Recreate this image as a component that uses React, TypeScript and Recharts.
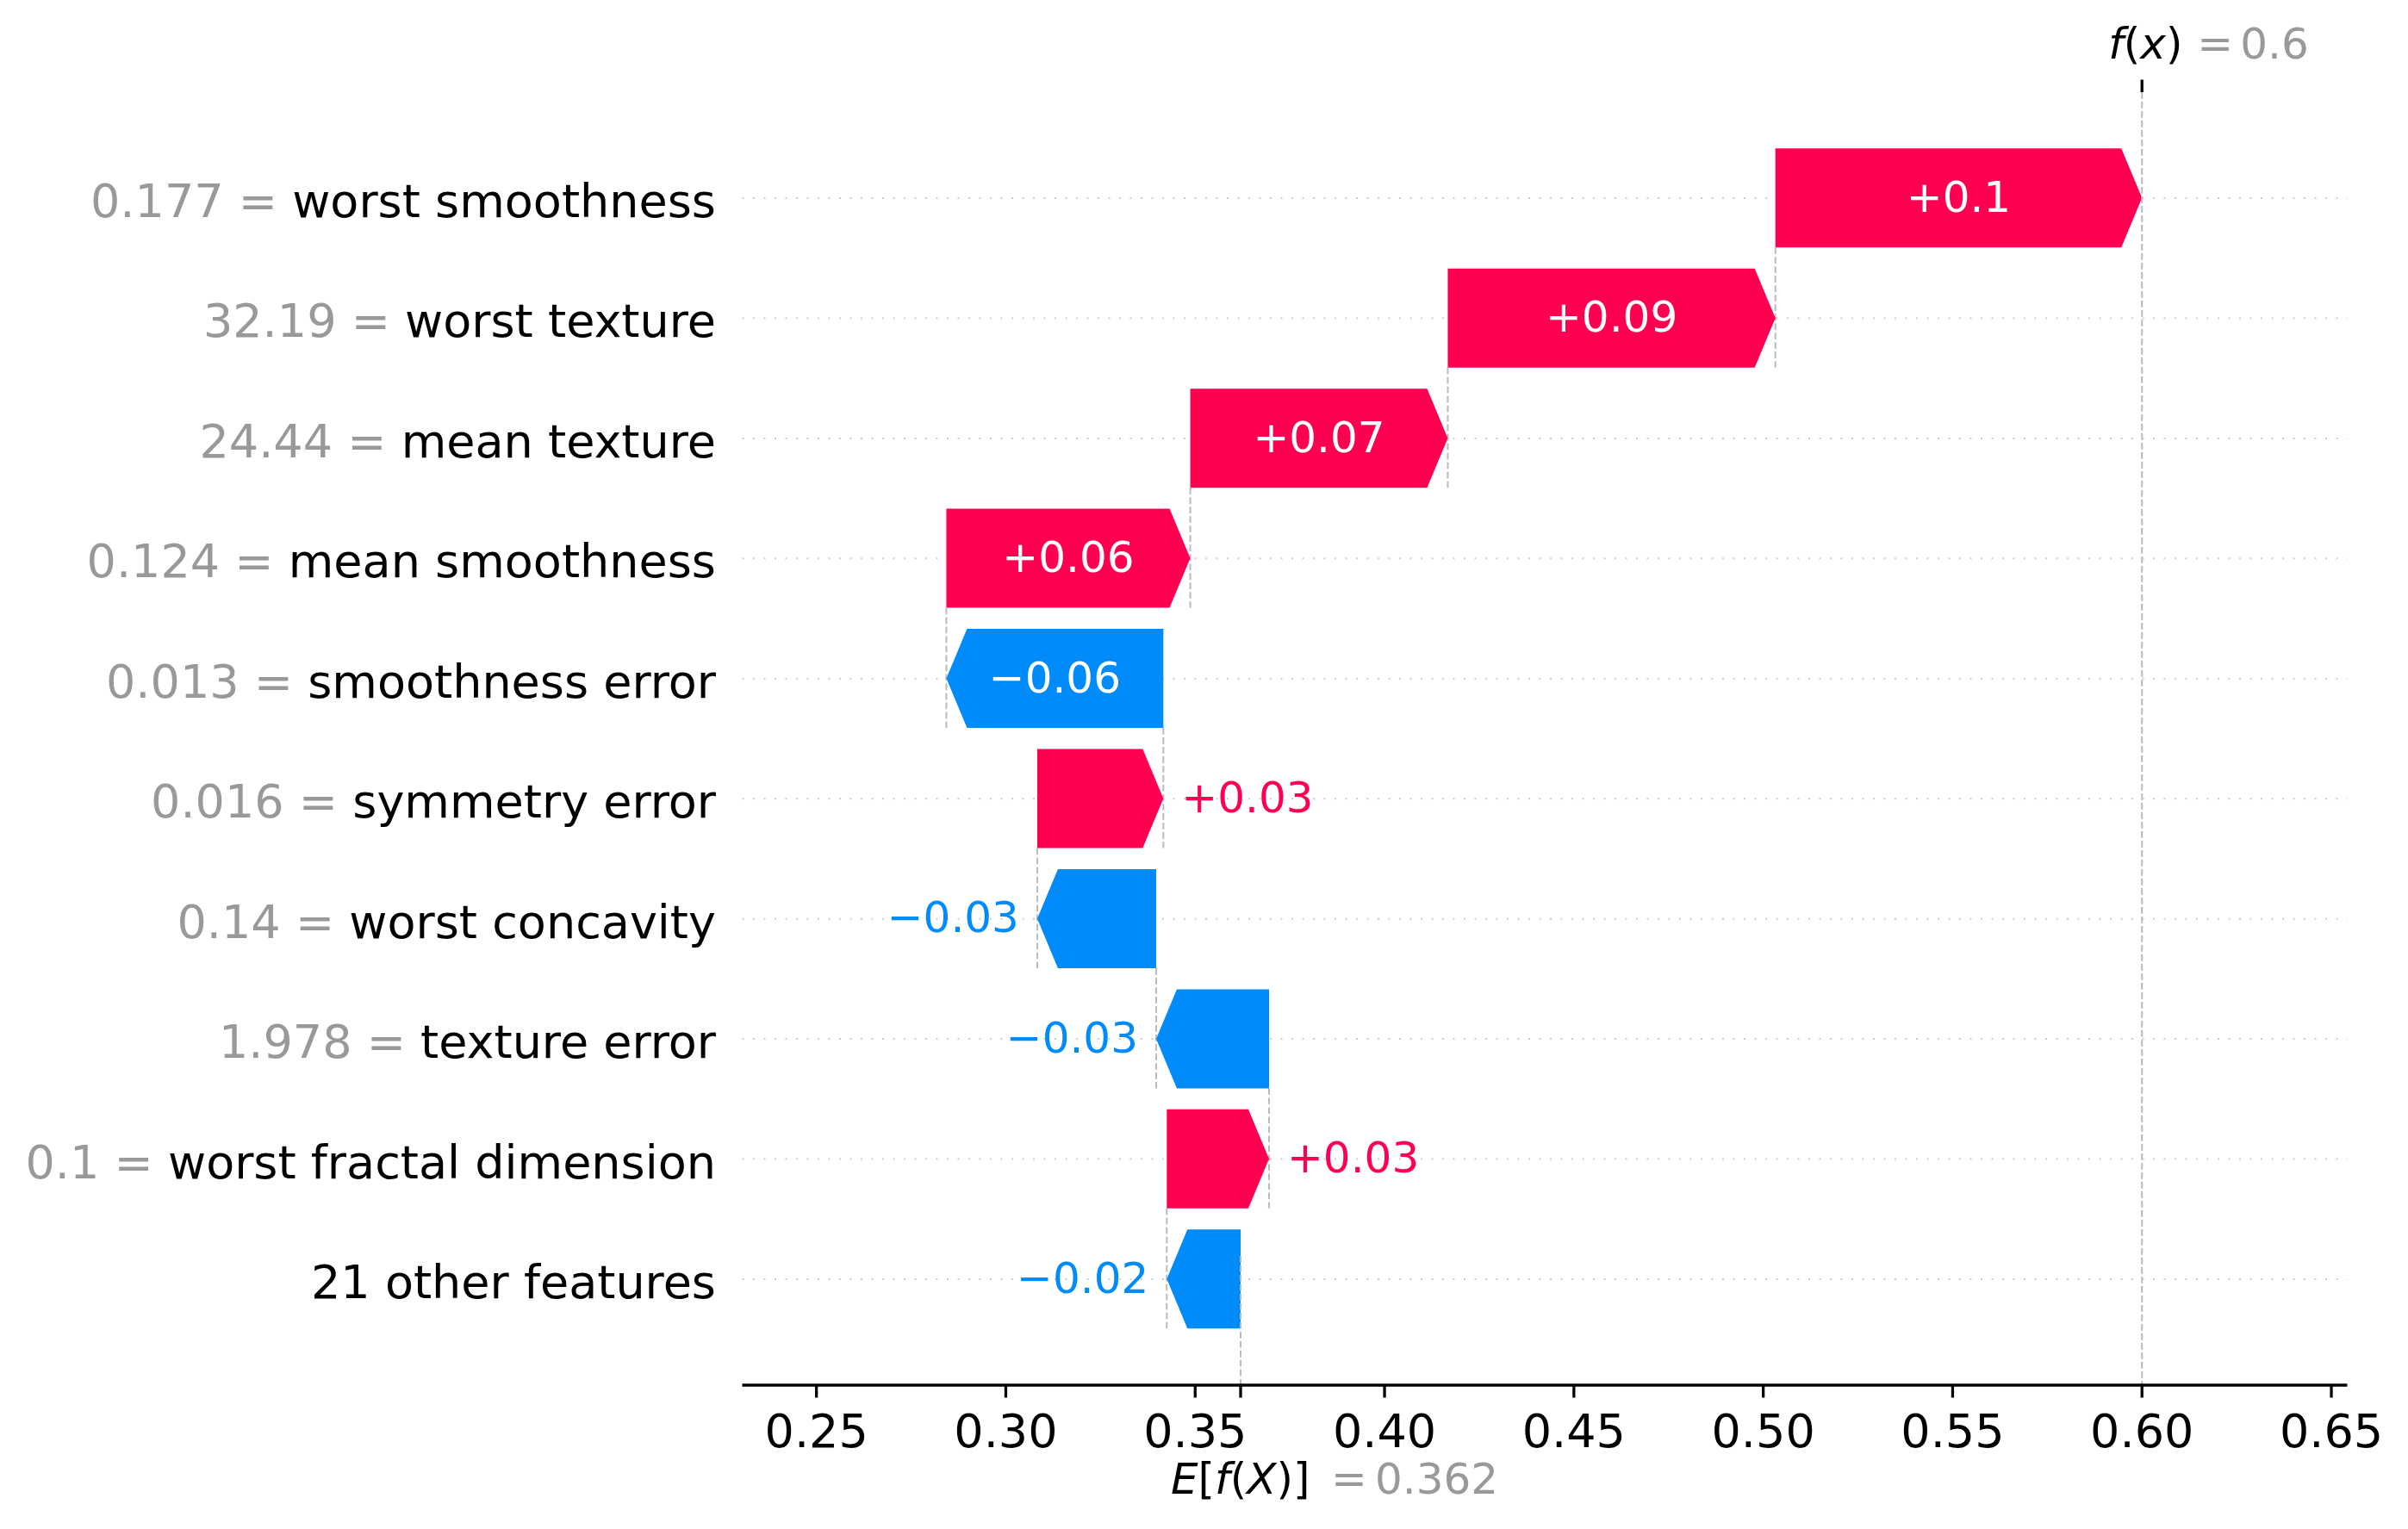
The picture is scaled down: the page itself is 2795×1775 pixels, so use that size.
import React from 'react'
import { ComposedChart, Bar, XAxis, YAxis, CartesianGrid, ReferenceLine } from 'recharts'

// rows top to bottom
const featureNames = [
  'worst smoothness',
  'worst texture',
  'mean texture',
  'mean smoothness',
  'smoothness error',
  'symmetry error',
  'worst concavity',
  'texture error',
  'worst fractal dimension',
  '21 other features',
]
const featureValues = ['0.177', '32.19', '24.44', '0.124', '0.013', '0.016', '0.14', '1.978', '0.1', '']
const shapValues = [0.0968, 0.0865, 0.068, 0.0644, -0.0573, 0.0333, -0.0314, -0.0298, 0.027, -0.0195]
const baseValue = 0.362
const xTicks = [0.25, 0.3, 0.35, 0.4, 0.45, 0.5, 0.55, 0.6, 0.65]

const RED = '#ff0051'
const BLUE = '#008bfb'
const GRAY = '#999999'
const LINE_GRAY = '#bbbbbb'
const FONT = '"DejaVu Sans", sans-serif'

const W = 2795
const H = 1775
const PLOT_L = 861.5
const PLOT_T = 107
const PLOT_B = 1608
const Y_AXIS_W = 840
const Y_PAD = 53.3
const BAND = (PLOT_B - PLOT_T - 2 * Y_PAD) / featureNames.length
const BAR_H = 115
const HEAD = 24
const LABEL_FS = 50
const TICK_FS = 54

// waterfall: start at the base value from the bottom row and walk up
const rows: { name: string; value: number; start: number; end: number; range: [number, number] }[] = []
let acc = baseValue
for (let i = shapValues.length - 1; i >= 0; i--) {
  const start = acc
  acc += shapValues[i]
  rows[i] = {
    name: featureNames[i],
    value: shapValues[i],
    start,
    end: acc,
    range: [Math.min(start, acc), Math.max(start, acc)],
  }
}
const fx = acc

const strip = (s: string) => s.replace(/\.?0+$/, '')
const fmtShap = (v: number) => (v >= 0 ? '+' : '\u2212') + strip(Math.abs(v).toFixed(2))

function ArrowShape(props: any) {
  const { x, y, width, height, index } = props
  const row = rows[index]
  const pos = row.value >= 0
  const x0 = width >= 0 ? x : x + width
  const w = Math.abs(width)
  const x1 = x0 + w
  const hl = Math.min(HEAD, w)
  const cy = y + height / 2
  const pts = pos
    ? [[x0, y], [x1 - hl, y], [x1, cy], [x1 - hl, y + height], [x0, y + height]]
    : [[x1, y], [x0 + hl, y], [x0, cy], [x0 + hl, y + height], [x1, y + height]]
  const color = pos ? RED : BLUE
  const label = fmtShap(row.value)
  const textW = label.length * 0.62 * LABEL_FS
  const inside = w - hl > textW
  const startX = pos ? x0 : x1
  const isLast = index === rows.length - 1
  return (
    <g>
      {!isLast && (
        <line
          x1={startX}
          x2={startX}
          y1={y + height}
          y2={y + height + BAND}
          stroke={LINE_GRAY}
          strokeWidth={2}
          strokeDasharray="7.7 3.3"
        />
      )}
      <polygon points={pts.map((p) => p.join(',')).join(' ')} fill={color} />
      {inside ? (
        <text x={(x0 + x1) / 2} y={cy + 16} textAnchor="middle" fill="#ffffff" fontSize={LABEL_FS} fontFamily={FONT}>
          {label}
        </text>
      ) : (
        <text
          x={pos ? x1 + 21 : x0 - 21}
          y={cy + 16}
          textAnchor={pos ? 'start' : 'end'}
          fill={color}
          fontSize={LABEL_FS}
          fontFamily={FONT}
        >
          {label}
        </text>
      )}
    </g>
  )
}

function YTick(props: any) {
  const { x, y, payload } = props
  const i = featureNames.indexOf(payload.value)
  const val = featureValues[i]
  return (
    <text x={x} y={y + 22} textAnchor="end" fontSize={TICK_FS} fontFamily={FONT}>
      {val !== '' && <tspan fill={GRAY}>{val} = </tspan>}
      <tspan fill="#000000">{featureNames[i]}</tspan>
    </text>
  )
}

function XTick(props: any) {
  const { x, y, payload } = props
  if (payload.value === baseValue) {
    return (
      <g fontSize={LABEL_FS} fontFamily={FONT}>
        <text x={x - 81} y={y + 97} fill="#000000">
          <tspan fontStyle="italic">E</tspan>[<tspan fontStyle="italic">f</tspan>(<tspan fontStyle="italic">X</tspan>)]
        </text>
        <text x={x + 105} y={y + 97} fill={GRAY}>=</text>
        <text x={x + 156} y={y + 97} fill={GRAY}>{baseValue.toFixed(3)}</text>
      </g>
    )
  }
  return (
    <text x={x} y={y + 43} textAnchor="middle" fontSize={TICK_FS} fontFamily={FONT} fill="#000000">
      {payload.value.toFixed(2)}
    </text>
  )
}

function FxLine(props: any) {
  const { x1, y1, y2 } = props
  const top = Math.min(y1, y2)
  const bottom = Math.max(y1, y2)
  return (
    <g>
      <line x1={x1} x2={x1} y1={top} y2={bottom} stroke={LINE_GRAY} strokeWidth={2} strokeDasharray="7.7 3.3" />
      <line x1={x1} x2={x1} y1={top - 14.5} y2={top} stroke="#000000" strokeWidth={3.3} />
      <g fontSize={LABEL_FS} fontFamily={FONT}>
        <text x={x1 - 39} y={top - 39} fill="#000000">
          <tspan fontStyle="italic">f</tspan>(<tspan fontStyle="italic">x</tspan>)
        </text>
        <text x={x1 + 64} y={top - 39} fill={GRAY}>=</text>
        <text x={x1 + 114} y={top - 39} fill={GRAY}>{strip(fx.toFixed(3))}</text>
      </g>
    </g>
  )
}

function BaseLine(props: any) {
  const { x1, y1, y2 } = props
  const top = Math.min(y1, y2)
  const bottom = Math.max(y1, y2)
  return (
    <line
      x1={x1}
      x2={x1}
      y1={bottom - (bottom - top) / featureNames.length}
      y2={bottom}
      stroke={LINE_GRAY}
      strokeWidth={2}
      strokeDasharray="7.7 3.3"
    />
  )
}

// dotted row guides at the band centres only
const rowGuides = () => featureNames.map((_, i) => PLOT_T + Y_PAD + BAND * (i + 0.5))

export default function App() {
  const ticks = [...xTicks, baseValue].sort((a, b) => a - b)
  return (
    <div style={{ position: 'absolute', left: 0, top: 0, width: W, height: H, background: '#ffffff' }}>
      <ComposedChart
        width={W}
        height={H}
        data={rows}
        layout="vertical"
        margin={{ top: PLOT_T, left: PLOT_L - Y_AXIS_W, right: 70.5, bottom: H - PLOT_B - 140 }}
      >
        <CartesianGrid
          horizontal
          vertical={false}
          horizontalCoordinatesGenerator={rowGuides}
          stroke="#cccccc"
          strokeWidth={2}
          strokeDasharray="2 10.5"
        />
        <XAxis
          type="number"
          domain={[0.2304, 0.6542]}
          allowDataOverflow
          ticks={ticks}
          interval={0}
          height={140}
          axisLine={{ stroke: '#000000', strokeWidth: 3.3 }}
          tickLine={{ stroke: '#000000', strokeWidth: 3.3 }}
          tickSize={14.5}
          tickMargin={14}
          tick={XTick}
        />
        <YAxis
          type="category"
          dataKey="name"
          width={Y_AXIS_W}
          axisLine={false}
          tickLine={false}
          tickSize={0}
          tickMargin={PLOT_L - 831}
          interval={0}
          padding={{ top: Y_PAD, bottom: Y_PAD }}
          tick={YTick}
        />
        <ReferenceLine x={fx} shape={FxLine} ifOverflow="visible" />
        <ReferenceLine x={baseValue} shape={BaseLine} ifOverflow="visible" />
        <Bar dataKey="range" barSize={BAR_H} shape={ArrowShape} isAnimationActive={false} />
      </ComposedChart>
    </div>
  )
}
